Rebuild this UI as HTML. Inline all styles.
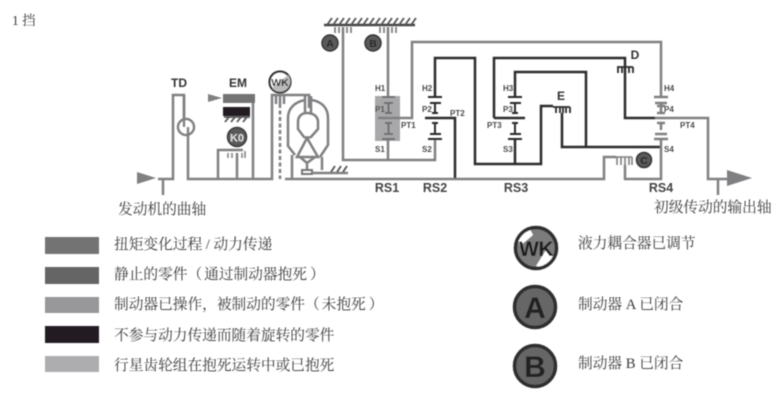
<!DOCTYPE html>
<html><head><meta charset="utf-8"><style>
html,body{margin:0;padding:0;background:#fff;width:783px;height:404px;overflow:hidden}
svg{display:block}
.g{fill:none;stroke:#808082;stroke-width:2.500}
.d{fill:none;stroke:#2b2a2b;stroke-width:2.500}
.s{fill:none;stroke:#6e6e70;stroke-width:2}
.k{fill:none;stroke:#2b2a2b;stroke-width:2}
.l{font:bold 8px "Liberation Sans",sans-serif;fill:#4a4a4a}
.t{font:bold 12px "Liberation Sans",sans-serif;fill:#333}
.r{font:bold 12.500px "Liberation Sans",sans-serif;fill:#444}
.c{font:14.7px "Liberation Serif","Noto Serif CJK SC",serif;fill:#3a3a3a}
</style></head><body>
<svg width="783" height="404" viewBox="0 0 783 404" xmlns="http://www.w3.org/2000/svg">
<defs><filter id="b" x="-2%" y="-2%" width="104%" height="104%"><feGaussianBlur stdDeviation="0.5"/></filter></defs>
<g filter="url(#b)">
<rect x="375" y="96" width="25" height="45" fill="#a8a8aa"/>
<!-- input -->
<path d="M137 172L156 178L137 184Z" fill="#808082"/>
<path class="g" d="M158 179H173V95H184V120M188 127V179H272V95H309V108M163 179V195M218 179V150H243M253 179V103M237 179V153"/>
<circle cx="186" cy="127" r="8" fill="#fff" stroke="#808082" stroke-width="2.500"/>
<path class="g" d="M184 95V127M188 127V135"/>
<!-- EM -->
<path d="M208 94L222 98L208 102Z" fill="#808082"/>
<rect x="223" y="94" width="32" height="9" fill="#737373"/>
<rect x="223" y="107" width="27" height="9" fill="#231f20"/>
<path d="M224 117H250M225 122L229 117M231 122L235 117M237 122L241 117M243 122L247 117" fill="none" stroke="#555" stroke-width="1.800"/>
<path d="M228 153V158M232 153V158M237 153V158M242 153V158M245 151V158" fill="none" stroke="#808082" stroke-width="1.500"/>
<circle cx="237" cy="137" r="9.500" fill="#5a5a5a" stroke="#3a3a3a" stroke-width="1.500"/>
<text x="237" y="141.500" text-anchor="middle" class="t" style="fill:#ddd;font-size:11px">K0</text>
<!-- WK -->
<circle cx="280" cy="82" r="10.500" fill="#fff" stroke="#333" stroke-width="2.200"/>
<path d="M272 88L288 75A10 10 0 0 1 272 88Z" fill="#bbb"/>
<text x="280" y="86" text-anchor="middle" class="t" style="font-size:10.500px;fill:#222">WK</text>
<path class="g" d="M276 95V104M284 95V104M280 95V104"/>
<path d="M280 104V179" fill="none" stroke="#808082" stroke-width="2.500" stroke-dasharray="4 2.500"/>
<!-- converter -->
<path class="g" d="M305 100C295 102 288 108 288 118V146L295 155M292 155V179M312 100C322 102 328 108 328 118V145L320 157M322 157V170M307 113C301 113 298 117 298 122V129L304 137L307 138L311 137L318 129V122C318 117 314 113 307 113ZM305 96V113M311 96V113M307 138L297 157H318ZM300 157L307 163L315 157M307 163V169"/>
<rect x="302" y="170" width="10" height="4" fill="none" stroke="#777" stroke-width="2"/>
<path class="g" d="M312 173H348"/>
<path d="M331 172L335 166M337 172L341 166M343 172L347 166" fill="none" stroke="#555" stroke-width="1.800"/>
<path class="g" d="M285 179H604V157H616"/>
<!-- ground top -->
<path d="M324 25H415" stroke="#444" stroke-width="2.400" fill="none"/>
<path d="M327 25L332 18M333 25L338 18M339 25L344 18M345 25L350 18M351 25L356 18M357 25L362 18M363 25L368 18M369 25L374 18M375 25L380 18M381 25L386 18M387 25L392 18M393 25L398 18M399 25L404 18M405 25L410 18M411 25L416 18" stroke="#555" stroke-width="1.800" fill="none"/>
<path class="g" d="M343 27V160H435V139M388 27V96M388 139V160"/>
<path d="M335 27V33M339 27V33M347 27V33M351 27V33M380 27V33M384 27V33M392 27V33M396 27V33" stroke="#808082" stroke-width="1.800" fill="none"/>
<circle cx="330" cy="43" r="8" fill="#5a5a5a" stroke="#333" stroke-width="1.500"/>
<text x="330" y="47" text-anchor="middle" class="t" style="font-size:10.500px;fill:#222">A</text>
<circle cx="373" cy="43" r="8" fill="#5a5a5a" stroke="#333" stroke-width="1.500"/>
<text x="373" y="47" text-anchor="middle" class="t" style="font-size:10.500px;fill:#222">B</text>
<!-- RS1 gear -->
<path class="s" d="M382 97H395M384 103H393M388.500 103V113M385 113H392M385 123H392M388.500 123V133M384 134H393M382 139H395"/>
<path class="g" d="M378 118H412V42H661V97"/>
<!-- RS2 -->
<path class="d" d="M435 97V58H475V164H541V106H553M425 118H455V178"/>
<path class="k" d="M428 97H442M430 103H441M435 103V113M432 113H438M432 123H438M435 123V133M430 134H441M428 139H442"/>
<!-- RS3 -->
<path class="d" d="M494 118V58H625V118H655M494 118H525M515 97V72H586V147M515 139V164M562 113V147H661"/>
<path class="k" d="M508 97H522M510 103H521M515 103V113M512 113H518M512 123H518M515 123V133M510 134H521M508 139H522"/>
<path d="M553 107H570M556 107V113M560 107V113M563 107V113M566 107V113M570 107V113M617 67H633M618 67V73M622 67V73M625 67V73M629 67V73M633 67V73" stroke="#2b2a2b" stroke-width="1.800" fill="none"/>
<!-- RS4 -->
<path class="g" d="M654 97H668M655 103H667M657 106H665M661 103V112M657 113H665M655 118H708V179H727M657 123H665M661 123V130M655 134H667M654 139H668M661 139V179H625V165M718 179V195"/>
<path d="M727 170L752 178L727 186Z" fill="#808082"/>
<path d="M617 157V165M621 157V165M625 157V165M629 157V165M632 157V165M616 157H632" stroke="#808082" stroke-width="1.600" fill="none"/>
<circle cx="644" cy="160" r="7.500" fill="#5a5a5a" stroke="#333" stroke-width="1.500"/>
<text x="644" y="164" text-anchor="middle" class="t" style="font-size:10.500px;fill:#222">C</text>
<!-- labels -->
<text x="179" y="87" text-anchor="middle" class="t">TD</text>
<text x="238" y="87" text-anchor="middle" class="t">EM</text>
<text x="635" y="59" text-anchor="middle" class="t">D</text>
<text x="561" y="100" text-anchor="middle" class="t">E</text>
<text x="375" y="91" class="l">H1</text><text x="375" y="112" class="l">P1</text><text x="401" y="128" class="l">PT1</text><text x="375" y="152" class="l">S1</text>
<text x="422" y="91" class="l">H2</text><text x="422" y="112" class="l">P2</text><text x="450" y="116" class="l">PT2</text><text x="422" y="152" class="l">S2</text>
<text x="503" y="91" class="l">H3</text><text x="503" y="112" class="l">P3</text><text x="487" y="128" class="l">PT3</text><text x="503" y="152" class="l">S3</text>
<text x="664" y="91" class="l">H4</text><text x="664" y="112" class="l">P4</text><text x="680" y="128" class="l">PT4</text><text x="664" y="152" class="l">S4</text>
<text x="387" y="192" text-anchor="middle" class="r">RS1</text>
<text x="435" y="192" text-anchor="middle" class="r">RS2</text>
<text x="516" y="192" text-anchor="middle" class="r">RS3</text>
<text x="661" y="192" text-anchor="middle" class="r">RS4</text>
<!-- legend swatches -->
<rect x="45" y="237" width="54" height="17" fill="#737373"/>
<rect x="45" y="267" width="54" height="17" fill="#656565"/>
<rect x="45" y="297" width="54" height="16" fill="#98989a"/>
<rect x="45" y="326" width="54" height="17" fill="#231f20"/>
<rect x="45" y="356" width="54" height="16" fill="#adadaf"/>
<!-- legend circles -->
<circle cx="536" cy="248" r="20.500" fill="#7c7c7c"/>
<path d="M518 240A20 20 0 0 1 530 229L533 235L520 246Z" fill="#fff"/>
<path d="M542 267A20 20 0 0 0 554 257L546 250L536 266Z" fill="#fff"/>
<circle cx="536" cy="248" r="20.500" fill="none" stroke="#2e2e2e" stroke-width="3.500"/>
<text x="536" y="256" text-anchor="middle" style="font:bold 21px 'Liberation Sans',sans-serif;fill:#1c1c1c;letter-spacing:-.5px">WK</text>
<circle cx="535" cy="307" r="20.500" fill="#666" stroke="#2e2e2e" stroke-width="3.500"/>
<text x="535" y="318" text-anchor="middle" style="font:bold 30px 'Liberation Sans',sans-serif;fill:#222">A</text>
<circle cx="535" cy="366" r="20.500" fill="#666" stroke="#2e2e2e" stroke-width="3.500"/>
<text x="535" y="377" text-anchor="middle" style="font:bold 30px 'Liberation Sans',sans-serif;fill:#222">B</text>
<!-- text -->
<text x="12" y="25" class="c" style="font-size:13.500px">1 挡</text>
<text x="118" y="214" class="c">发动机的曲轴</text>
<text x="654" y="212" class="c">初级传动的输出轴</text>
<text x="114" y="249" class="c">扭矩变化过程 / 动力传递</text>
<text x="114" y="279" class="c">静止的零件（<tspan dx="2">通过制动器抱死</tspan><tspan dx="3">）</tspan></text>
<text x="114" y="309" class="c">制动器已操作，被制动的零件（<tspan dx="2">未抱死</tspan><tspan dx="3">）</tspan></text>
<text x="114" y="340" class="c">不参与动力传递而随着旋转的零件</text>
<text x="114" y="370" class="c">行星齿轮组在抱死运转中或已抱死</text>
<text x="578" y="248" class="c">液力耦合器已调节</text>
<text x="578" y="309" class="c">制动器 A 已闭合</text>
<text x="578" y="368" class="c">制动器 B 已闭合</text>
</g>
</svg>
</body></html>
